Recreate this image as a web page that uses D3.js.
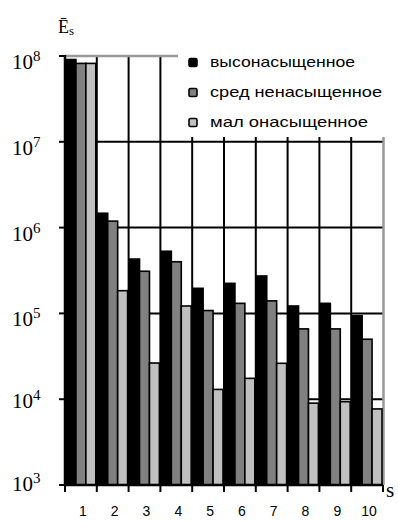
<!DOCTYPE html>
<html><head><meta charset="utf-8">
<script src="https://cdn.jsdelivr.net/npm/d3@7/dist/d3.min.js"></script>
<style>body{margin:0;background:#fff}svg{display:block}
.serif{font-family:'Liberation Serif','Times New Roman',serif}
.sans{font-family:'Liberation Sans',Arial,sans-serif}
</style>
</head><body>
<svg id="c" width="398" height="521"></svg>
<script>
const categories = ["1","2","3","4","5","6","7","8","9","10"];
const seriesNames = ["высонасыщенное","сред ненасыщенное","мал онасыщенное"];
const high   = [9.1e7, 1.47e6, 4.3e5, 5.3e5, 1.96e5, 2.24e5, 2.73e5, 1.22e5, 1.31e5, 9.4e4];
const medium = [8.2e7, 1.19e6, 3.1e5, 4.0e5, 1.08e5, 1.31e5, 1.40e5, 6.6e4, 6.6e4, 5.0e4];
const low    = [8.2e7, 1.84e5, 2.64e4, 1.22e5, 1.30e4, 1.75e4, 2.62e4, 9.0e3, 9.35e3, 7.7e3];
const yTicks = [1e3, 1e4, 1e5, 1e6, 1e7, 1e8];
const yExp   = ["3","4","5","6","7","8"];

const colors = ["#000000", "#808080", "#c0c0c0"];
const seriesData = [high, medium, low];

const svg = d3.select("#c");
const L = 65, R = 383, T = 56, B = 485;
const x = d3.scaleBand().domain(categories).range([L, R]).padding(0);
const y = d3.scaleLog().domain([1e3, 1e8]).range([B, T]);
const xi = d3.scaleBand().domain(d3.range(3)).range([1, x.bandwidth() - 1]).padding(0);

// horizontal gridlines
svg.append("g").selectAll("line").data(yTicks.filter(t => t > 1e3 && t < 1e8)).join("line")
  .attr("x1", L).attr("x2", R).attr("y1", d => y(d)).attr("y2", d => y(d))
  .attr("stroke", "#000").attr("stroke-width", 2);
// vertical gridlines at band boundaries
const bounds = categories.map(c => x(c)).slice(1);
svg.append("g").selectAll("line").data(bounds).join("line")
  .attr("x1", d => d).attr("x2", d => d).attr("y1", T).attr("y2", B)
  .attr("stroke", "#000").attr("stroke-width", 2);

// top gray border and right gray border
svg.append("line").attr("x1", L).attr("x2", R).attr("y1", T).attr("y2", T)
  .attr("stroke", "#999").attr("stroke-width", 2.5);
svg.append("line").attr("x1", R + 0.5).attr("x2", R + 0.5).attr("y1", T).attr("y2", B)
  .attr("stroke", "#999").attr("stroke-width", 2.5);

// bars
seriesData.forEach((vals, s) => {
  svg.append("g").selectAll("rect").data(vals).join("rect")
    .attr("x", (d, i) => x(categories[i]) + xi(s))
    .attr("width", xi.bandwidth())
    .attr("y", d => y(d))
    .attr("height", d => B - y(d))
    .attr("fill", colors[s]).attr("stroke", "#000").attr("stroke-width", 1.6);
});

// legend box (white, covering gridlines)
svg.append("rect").attr("x", 178).attr("y", 38).attr("width", 220).attr("height", 99).attr("fill", "#fff");
const legW = [145, 172, 158];
seriesNames.forEach((n, i) => {
  const ly = 67 + i * 30;
  svg.append("rect").attr("x", 189).attr("y", ly - 8.5).attr("width", 8).attr("height", 8)
    .attr("rx", 1.5).attr("fill", colors[i]).attr("stroke", "#000").attr("stroke-width", 1.6);
  svg.append("text").attr("class", "sans").attr("x", 210).attr("y", ly).text(n)
    .attr("font-size", 15)
    .attr("textLength", legW[i]).attr("lengthAdjust", "spacingAndGlyphs").attr("fill", "#000");
});

// left axis
svg.append("line").attr("x1", L).attr("x2", L).attr("y1", T - 1).attr("y2", B + 1)
  .attr("stroke", "#000").attr("stroke-width", 2.5);
svg.append("g").selectAll("line").data(yTicks).join("line")
  .attr("x1", L - 6).attr("x2", L).attr("y1", d => y(d)).attr("y2", d => y(d))
  .attr("stroke", "#000").attr("stroke-width", 2);
const yl = svg.append("g").selectAll("text").data(yTicks).join("text")
  .attr("class", "serif")
  .attr("x", 12).attr("y", (d, i) => y(d) + (i === 0 ? 6 : i === 1 ? 9 : 13))
  .attr("font-size", 21).attr("fill", "#000");
yl.append("tspan").text("10");
yl.append("tspan").attr("dy", -8).attr("font-size", 15).text((d, i) => yExp[i]);

// axis title
const at = svg.append("text").attr("class", "serif").attr("x", 58).attr("y", 33)
  .attr("font-size", 18).attr("fill", "#000");
at.append("tspan").text("Ē");
at.append("tspan").attr("dy", 2).attr("font-size", 13).text("s");

// bottom axis
svg.append("line").attr("x1", L).attr("x2", R).attr("y1", B).attr("y2", B)
  .attr("stroke", "#000").attr("stroke-width", 2.5);
svg.append("g").selectAll("line").data(categories.map(c => x(c)).concat([R])).join("line")
  .attr("x1", d => d).attr("x2", d => d).attr("y1", B).attr("y2", B + 7)
  .attr("stroke", "#000").attr("stroke-width", 2);
svg.append("g").selectAll("text").data(categories).join("text")
  .attr("class", "sans")
  .attr("x", d => x(d) + x.bandwidth() / 2 + 2).attr("y", 516).attr("text-anchor", "middle")
  .attr("font-size", 14).attr("fill", "#000")
  .text(d => d);
svg.append("text").attr("class", "serif").attr("x", 386).attr("y", 497)
  .attr("font-size", 21).attr("fill", "#000").text("s");
</script>
</body></html>
